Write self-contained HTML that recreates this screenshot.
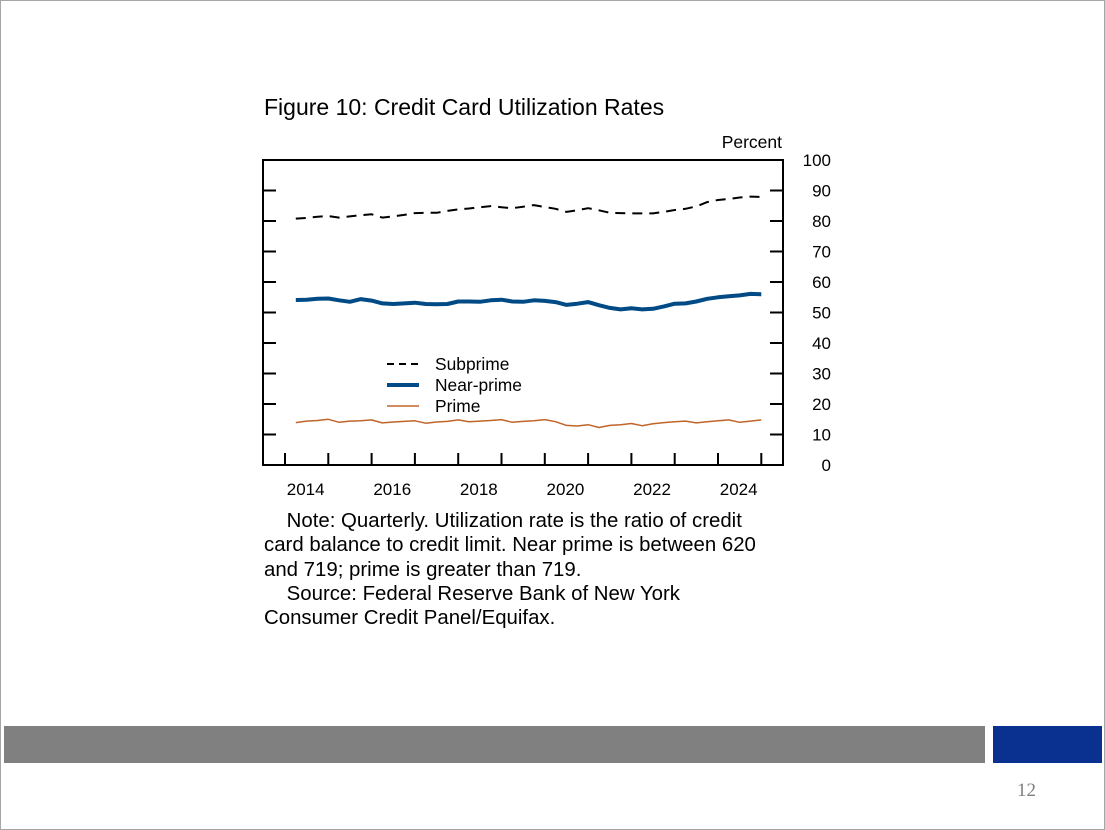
<!DOCTYPE html>
<html><head><meta charset="utf-8"><style>
body{margin:0;width:1105px;height:830px;overflow:hidden;background:#fff;font-family:"Liberation Sans",sans-serif;}
#page{position:absolute;left:0;top:0;width:1103px;height:828px;border:1px solid #a6a6a6;}
.t{position:absolute;color:#000;white-space:nowrap;}
</style></head><body>
<div id="page">
<div class="t" style="left:263px;top:93px;font-size:23px;">Figure 10: Credit Card Utilization Rates</div>
<svg id="chart" width="1105" height="520" style="position:absolute;left:0;top:0"></svg>
<div class="t" style="left:263px;top:508px;font-size:20.4px;line-height:24.3px;">&nbsp;&nbsp;&nbsp;&nbsp;Note: Quarterly. Utilization rate is the ratio of credit<br>card balance to credit limit. Near prime is between 620<br>and 719; prime is greater than 719.<br>&nbsp;&nbsp;&nbsp;&nbsp;Source: Federal Reserve Bank of New York<br>Consumer Credit Panel/Equifax.</div>
<div style="position:absolute;left:3px;top:725px;width:981px;height:37px;background:#808080"></div>
<div style="position:absolute;left:992px;top:725px;width:109px;height:37px;background:#0a318f"></div>
<div class="t" style="left:1016px;top:779px;font-family:'Liberation Serif',serif;font-size:19px;color:#7f7f7f">12</div>
</div>
<script>
const years=[2014,2016,2018,2020,2022,2024];
const yTicks=[0,10,20,30,40,50,60,70,80,90,100];
const subprime=[80.8,81.0,81.4,81.6,81.1,81.5,81.9,82.2,81.1,81.5,82.0,82.6,82.7,82.7,83.3,83.8,84.1,84.5,84.9,84.5,84.2,84.7,85.2,84.6,84.0,83.0,83.5,84.2,83.5,82.7,82.6,82.5,82.5,82.5,83.0,83.6,84.0,84.8,86.2,86.9,87.2,87.7,88.0,87.9];
const nearPrime=[54.1,54.2,54.5,54.6,54.0,53.5,54.4,53.9,53.0,52.8,53.0,53.2,52.8,52.7,52.8,53.6,53.6,53.5,54.0,54.2,53.6,53.5,54.0,53.8,53.4,52.5,52.9,53.4,52.4,51.5,51.0,51.4,51.0,51.2,52.0,52.9,53.0,53.6,54.5,55.0,55.3,55.6,56.1,56.0];
const prime=[13.9,14.4,14.6,15.0,14.0,14.4,14.5,14.8,13.8,14.1,14.3,14.5,13.7,14.1,14.3,14.8,14.2,14.4,14.6,14.9,14.0,14.3,14.5,14.9,14.2,13.0,12.8,13.2,12.3,13.0,13.2,13.6,12.9,13.5,13.9,14.2,14.4,13.8,14.2,14.5,14.8,14.0,14.4,14.8];
const NS="http://www.w3.org/2000/svg";
const svg=document.getElementById('chart');
const L=262,R=782,T=159,B=464;
const xs=t=>284+(t-2014)*43.3;
const ys=v=>B-(v/100)*(B-T);
const qt=i=>2014.25+0.25*i;
function mk(tag,attrs,parent){const e=document.createElementNS(NS,tag);for(const k in attrs)e.setAttribute(k,attrs[k]);(parent||svg).appendChild(e);return e;}
const fr=mk('rect',{x:L,y:T,width:R-L,height:B-T,fill:'none',stroke:'#000','stroke-width':2});


yTicks.forEach(v=>{
  const len=(v===100)?26:13;
  const a=mk('line',{x1:L,x2:L+len,y1:ys(v),y2:ys(v),stroke:'#000','stroke-width':2});
  
  
  const b=mk('line',{x1:R-len,x2:R,y1:ys(v),y2:ys(v),stroke:'#000','stroke-width':2});
  
  
  const tx=mk('text',{x:830,y:ys(v)+6,'text-anchor':'end','font-size':17,'font-family':'Liberation Sans, sans-serif'});
  tx.textContent=v;
  
  
});
for(let y=2014;y<=2025;y++){
  const t=mk('line',{x1:xs(y),x2:xs(y),y1:B,y2:B-12,stroke:'#000','stroke-width':2});
  
  
}
years.forEach(y=>{
  const tx=mk('text',{x:xs(y+0.5)-1,y:494,'text-anchor':'middle','font-size':17,'font-family':'Liberation Sans, sans-serif'});
  tx.textContent=y;
  
  
});
const pt=mk('text',{x:781,y:147,'text-anchor':'end','font-size':17.5,'font-family':'Liberation Sans, sans-serif'});
pt.textContent='Percent';


function series(data,style,name){
  const d=data.map((v,i)=>(i?'L':'M')+xs(qt(i)).toFixed(1)+','+ys(v).toFixed(1)).join('');
  const p=mk('path',Object.assign({d:d,fill:'none','stroke-linejoin':'round'},style));
  
  
}
series(subprime,{stroke:'#000','stroke-width':2,'stroke-dasharray':'10,7'},'subprime-line');
series(nearPrime,{stroke:'#004a85','stroke-width':4},'near-prime-line');
series(prime,{stroke:'#c0652a','stroke-width':1.5},'prime-line');
const leg=[['Subprime',{stroke:'#000','stroke-width':2,'stroke-dasharray':'7,5'},363],['Near-prime',{stroke:'#004a85','stroke-width':4},384],['Prime',{stroke:'#c0652a','stroke-width':1.5},405]];
leg.forEach(l=>{
  const ln=mk('line',Object.assign({x1:386,x2:418,y1:l[2],y2:l[2]},l[1]));
  
  
  const tx=mk('text',{x:434,y:l[2]+6,'font-size':17.4,'font-family':'Liberation Sans, sans-serif'});
  tx.textContent=l[0];
  
  
});
</script>
</body></html>
